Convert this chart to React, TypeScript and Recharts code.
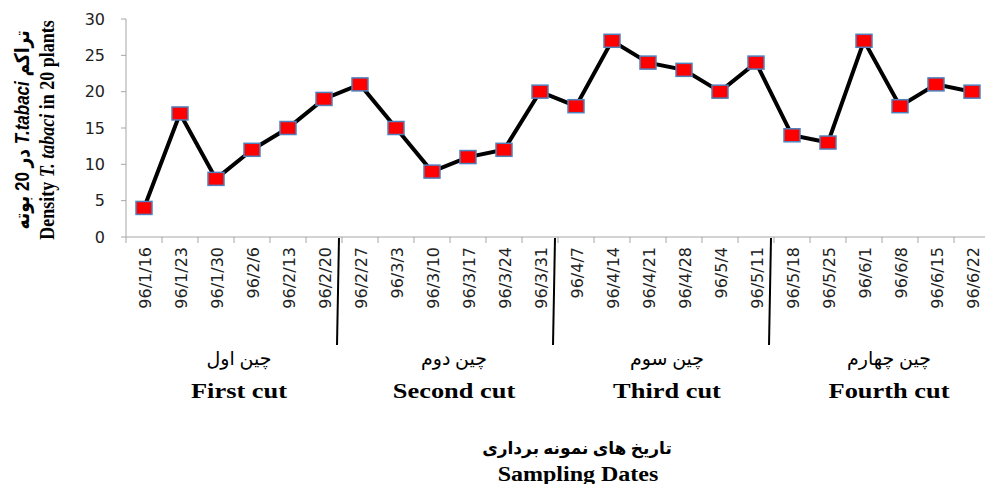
import React from "react";
import { LineChart, Line, XAxis, YAxis } from "recharts";

const dates = [
	"96/1/16", "96/1/23", "96/1/30", "96/2/6", "96/2/13", "96/2/20",
	"96/2/27", "96/3/3", "96/3/10", "96/3/17", "96/3/24", "96/3/31",
	"96/4/7", "96/4/14", "96/4/21", "96/4/28", "96/5/4", "96/5/11",
	"96/5/18", "96/5/25", "96/6/1", "96/6/8", "96/6/15", "96/6/22",
];
const density = [4, 17, 8, 12, 15, 19, 21, 15, 9, 11, 12, 20, 18, 27, 24, 23, 20, 24, 14, 13, 27, 18, 21, 20];
const yTicks = [0, 5, 10, 15, 20, 25, 30];
// last sampling date of each cut, a separator is drawn after it
const cutEnds = ["96/2/20", "96/3/31", "96/5/11"];
const cutsFa = ["چین اول", "چین دوم", "چین سوم", "چین چهارم"];
const cutsEn = ["First cut", "Second cut", "Third cut", "Fourth cut"];

const data = dates.map((d, i) => ({ date: d, value: density[i] }));

const cutX = [239, 454, 667, 889];
const half = 18;
const axisGray = "#a6a6a6";

const XTick = (props: any) => {
	const { x, y, payload } = props;
	const index = props.index ?? payload.index;
	return (
		<g>
			{index === 0 && <line x1={x - half} y1={y} x2={x - half} y2={y + 6} stroke={axisGray} />}
			<line x1={x + half} y1={y} x2={x + half} y2={y + 6} stroke={axisGray} />
			<text
				transform={`translate(${x + 1},${y + 10}) rotate(-90)`}
				textAnchor="end"
				dominantBaseline="central"
				fontSize={16}
				fontFamily="DejaVu Sans"
				fill="#222"
			>
				{payload.value}
			</text>
			{cutEnds.includes(payload.value) && (
				<line x1={x + half - 3} y1={y + 1} x2={x + half - 5} y2={y + 108} stroke="#000" strokeWidth={2} />
			)}
		</g>
	);
};

const Square = (props: any) => {
	const { cx, cy, index } = props;
	return <rect key={`sq-${index}`} x={cx - 8} y={cy - 6.5} width={16} height={13} fill="#ff0000" stroke="#4f81bd" strokeWidth={1.5} />;
};

const abs = (left: number, top: number, transform: string): React.CSSProperties => ({
	position: "absolute",
	left,
	top,
	transform,
	transformOrigin: "0 0",
	whiteSpace: "nowrap",
	lineHeight: 1,
	color: "#000",
});

export default function App() {
	return (
		<div style={{ position: "absolute", left: 0, top: 0, width: 985, height: 484, overflow: "hidden", background: "#fff" }}>
			<LineChart width={995} height={484} data={data} margin={{ top: 19, right: 5, left: 0, bottom: 0 }}>
				<XAxis
					dataKey="date"
					height={247}
					interval={0}
					padding={{ left: half, right: half }}
					tickSize={0}
					tickMargin={0}
					tickLine={false}
					axisLine={{ stroke: axisGray }}
					tick={<XTick />}
				/>
				<YAxis
					width={126}
					domain={[0, 30]}
					ticks={yTicks}
					tickSize={5}
					tickMargin={16}
					axisLine={{ stroke: axisGray }}
					tickLine={{ stroke: axisGray }}
					tick={{ fontSize: 16, fill: "#222", fontFamily: "DejaVu Sans" }}
				/>
				<Line
					type="linear"
					dataKey="value"
					stroke="#000"
					strokeWidth={4}
					dot={Square}
					activeDot={false}
					isAnimationActive={false}
				/>
			</LineChart>

			<div style={{ ...abs(22, 130, "scale(1.2,1) rotate(-90deg) translate(-50%,-50%)"), fontFamily: "'Liberation Sans', 'DejaVu Sans'", fontWeight: "bold", fontSize: 17 }} dir="rtl">
				تراکم <i>T.tabaci</i> در 20 بوته
			</div>
			<div style={{ ...abs(47, 130, "scale(1.2,1) rotate(-90deg) translate(-50%,-50%)"), fontFamily: "'Liberation Serif'", fontWeight: "bold", fontSize: 18 }}>
				Density <i>T. tabaci</i> in 20 plants
			</div>

			{cutsFa.map((t, i) => (
				<div key={`fa-${i}`} dir="rtl" style={{ ...abs(cutX[i], 358, "translate(-50%,-50%)"), fontFamily: "'Liberation Serif', 'DejaVu Sans'", fontSize: 19 }}>
					{t}
				</div>
			))}
			{cutsEn.map((t, i) => (
				<div key={`en-${i}`} style={{ ...abs(cutX[i], 391, "scaleX(1.2) translate(-50%,-50%)"), fontFamily: "'Liberation Serif'", fontWeight: "bold", fontSize: 22 }}>
					{t}
				</div>
			))}

			<div dir="rtl" style={{ ...abs(577, 448, "translate(-50%,-50%)"), fontFamily: "'Liberation Serif', 'DejaVu Sans'", fontWeight: "bold", fontSize: 17 }}>
				تاریخ های نمونه برداری
			</div>
			<div style={{ ...abs(578, 474, "scaleX(1.2) translate(-50%,-50%)"), fontFamily: "'Liberation Serif'", fontWeight: "bold", fontSize: 20 }}>
				Sampling Dates
			</div>
		</div>
	);
}
